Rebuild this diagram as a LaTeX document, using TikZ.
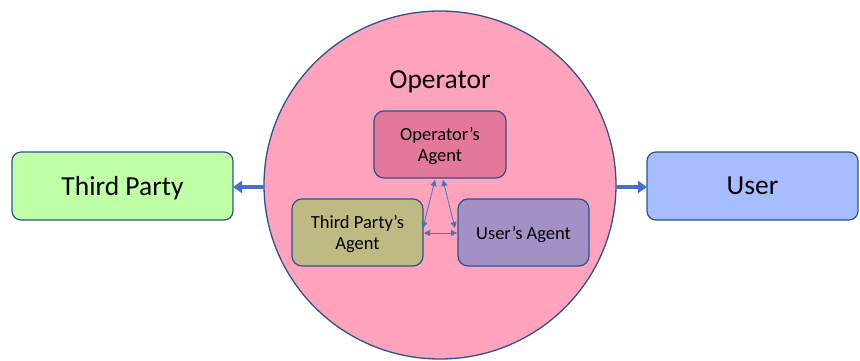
\documentclass[tikz,border=0pt]{standalone}
\usepackage{fontspec}
\setmainfont{Carlito}
\usetikzlibrary{arrows.meta,shapes.geometric}

\definecolor{edgeblue}{RGB}{47,82,143}
\definecolor{arrowblue}{RGB}{68,114,196}
\definecolor{opfill}{RGB}{255,163,188}
\definecolor{opagent}{RGB}{228,120,152}
\definecolor{tpagent}{RGB}{190,186,131}
\definecolor{useragent}{RGB}{163,145,197}
\definecolor{tpfill}{RGB}{191,255,166}
\definecolor{userfill}{RGB}{166,190,255}

\tikzset{
  party/.style={draw=edgeblue, line width=1.2pt, rounded corners=9pt,
    minimum height=68pt, inner sep=0pt, outer sep=0pt, text depth=0pt,
    font=\fontsize{27.5}{30}\selectfont},
  agent/.style={draw=edgeblue, line width=1.2pt, rounded corners=10pt,
    minimum width=131pt, minimum height=67pt, inner sep=0pt, outer sep=0pt,
    text depth=0pt, align=center, font=\fontsize{18.5}{21}\selectfont},
  bigarrow/.style={arrowblue, line width=4pt,
    -{Triangle[width=12pt,length=9pt]}},
  thinlink/.style={arrowblue, line width=0.8pt,
    {Triangle[width=6pt,length=6pt]}-{Triangle[width=6pt,length=6pt]}}
}

\begin{document}
\begin{tikzpicture}[x=1pt,y=-1pt]
  \useasboundingbox (0,0) rectangle (860,360);

  % the operator's domain
  \node[ellipse, draw=edgeblue, line width=1.3pt, fill=opfill,
        minimum width=352pt, minimum height=348pt, inner sep=0pt, outer sep=0pt]
        (op) at (440,185) {};
  \node[anchor=base, font=\fontsize{27.5}{30}\selectfont] (optitle) at (440,88) {Operator};

  % outside parties
  \node[party, fill=tpfill, minimum width=221pt] (tp) at (122.5,186) {Third Party};
  \node[party, fill=userfill, minimum width=211pt] (user) at (752.5,186) {User};

  % agents inside the operator
  \node[agent, fill=opagent, minimum width=132pt] (opA) at (440,144.5) {Operator’s\\Agent};
  \node[agent, fill=tpagent] (tpA) at (357.5,232.5) {Third Party’s\\Agent};
  \node[agent, fill=useragent] (uA) at (523.5,232.5) {User’s Agent};

  % links between the agents
  \draw[thinlink] ([xshift=-5pt,yshift=-2pt]opA.south) -- ([xshift=0pt,yshift=4.5pt]tpA.east);
  \draw[thinlink] ([xshift=3pt,yshift=-2pt]opA.south) -- ([xshift=-3pt,yshift=4.5pt]uA.west);
  \draw[thinlink] ([xshift=1pt,yshift=-0.5pt]tpA.east) -- ([xshift=-1pt,yshift=-0.5pt]uA.west);

  % links out of the operator
  \coordinate (lp) at ([yshift=-2pt]op.west);
  \coordinate (rp) at ([yshift=-2pt]op.east);
  \draw[bigarrow] (lp) -- (lp -| tp.east);
  \draw[bigarrow] (rp) -- (rp -| user.west);
\end{tikzpicture}
\end{document}
